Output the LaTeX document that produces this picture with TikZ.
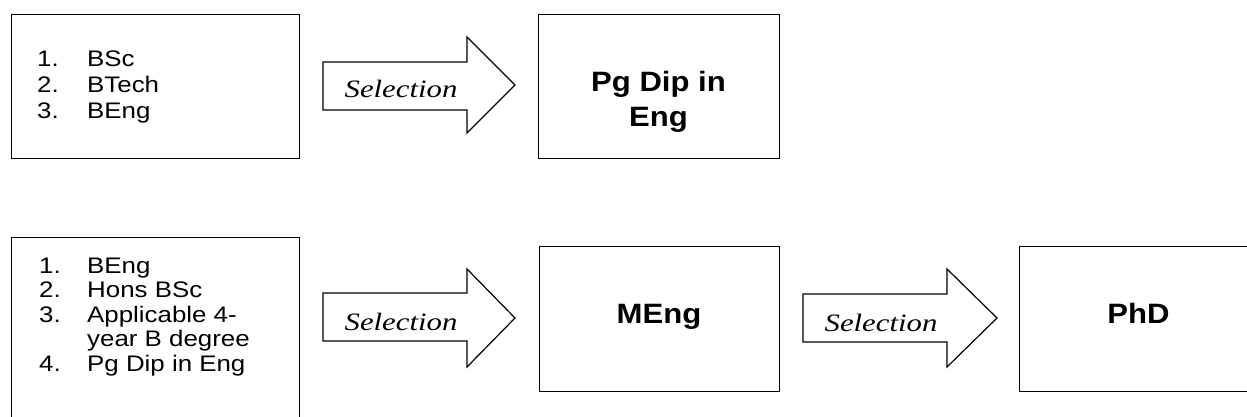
\documentclass[tikz,border=0pt]{standalone}
\usepackage{fontspec}
\setmainfont{Liberation Sans}
\newfontfamily\regfont{Liberation Sans}[FakeStretch=1.15]
\newfontfamily\boldfont{Liberation Sans}[FakeStretch=1.11]
\newfontfamily\selfont{Liberation Serif}[FakeStretch=1.23]
\begin{document}
\begin{tikzpicture}[x=1pt,y=-1pt,
  box/.style={draw, line width=1.3pt, inner sep=0pt, anchor=north west},
  blockarrow/.style={draw, line width=1.2pt, line join=miter},
  listtxt/.style={font=\regfont\fontsize{22.5}{25}\selectfont, anchor=base west, inner sep=0pt},
  boldtxt/.style={font=\boldfont\bfseries\fontsize{28}{34}\selectfont, anchor=base, inner sep=0pt},
  seltxt/.style={font=\selfont\itshape\fontsize{25}{30}\selectfont, anchor=base, inner sep=0pt}]
\useasboundingbox (0,0) rectangle (1247,417);
\clip (0,0) rectangle (1247,417);

% boxes
\node[box, minimum width=288pt, minimum height=144pt] (b1) at (11,14) {};
\node[box, minimum width=241pt, minimum height=144pt] (b2) at (538,14) {};
\node[box, minimum width=288pt, minimum height=200pt] (b3) at (11,237) {};
\node[box, minimum width=240pt, minimum height=145pt] (b4) at (539,246) {};
\node[box, minimum width=240pt, minimum height=145pt] (b5) at (1019,246) {};

% block arrows
\draw[blockarrow] (323,62) -- (467,62) -- (467,37) -- (515,85) -- (467,133) -- (467,110) -- (323,110) -- cycle;
\draw[blockarrow] (323,293) -- (467,293) -- (467,269) -- (515,318) -- (467,367) -- (467,341) -- (323,341) -- cycle;
\draw[blockarrow] (803,294) -- (947,294) -- (947,269) -- (997,318) -- (947,367) -- (947,342) -- (803,342) -- cycle;

\node[seltxt] (s1) at (401,98) {Selection};
\node[seltxt] (s2) at (401,330) {Selection};
\node[seltxt] (s3) at (881,331) {Selection};

% list 1
\node[listtxt] (n11) at (37,67) {1.};
\node[listtxt] (t11) at (87,67) {BSc};
\node[listtxt] (n12) at (37,93) {2.};
\node[listtxt] (t12) at (87,93) {BTech};
\node[listtxt] (n13) at (37,119) {3.};
\node[listtxt] (t13) at (87,119) {BEng};

% list 2
\node[listtxt] (n21) at (39,273) {1.};
\node[listtxt] (t21) at (87,273) {BEng};
\node[listtxt] (n22) at (39,297.5) {2.};
\node[listtxt] (t22) at (87,297.5) {Hons BSc};
\node[listtxt] (n23) at (39,322) {3.};
\node[listtxt] (t23) at (87,322) {Applicable 4-};
\node[listtxt] (t23b) at (87,346.5) {year B degree};
\node[listtxt] (n24) at (39,371) {4.};
\node[listtxt] (t24) at (87,371) {Pg Dip in Eng};

% bold labels
\node[boldtxt] (l2a) at (658.5,92) {Pg Dip in};
\node[boldtxt] (l2b) at (658.5,127) {Eng};
\node[boldtxt] (l4) at (659,323) {MEng};
\node[boldtxt] (l5) at (1138.5,323) {PhD};
\end{tikzpicture}
\end{document}
